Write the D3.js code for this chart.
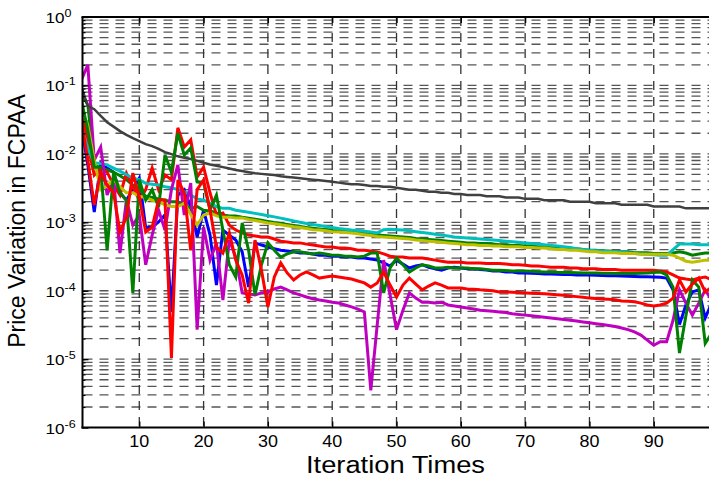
<!DOCTYPE html>
<html><head><meta charset="utf-8">
<script src="https://cdn.jsdelivr.net/npm/d3@7"></script>
<style>body{margin:0;background:#fff}svg{display:block}text{font-family:"Liberation Sans",Arial,Helvetica,sans-serif;fill:#000}</style>
</head><body><svg id="c" width="709" height="482"></svg>
<script>
const iterations = d3.range(1, 100);
const xTickValues = [10, 20, 30, 40, 50, 60, 70, 80, 90];
const yTickExponents = [0, -1, -2, -3, -4, -5, -6];
const xTitle = "Iteration Times";
const yTitle = "Price Variation in FCPAA";

const gray = [0.095,0.05,0.045,0.036,0.029,0.025,0.0215,0.019,0.017,0.0154,
0.0139,0.013,0.0118,0.0106,0.0099,0.0092,0.0088,0.0084,0.0079,0.0074,
0.0070,0.0067,0.0064,0.0061,0.0058,0.0056,0.0054,0.0052,0.0051,0.0050,
0.0049,0.0047,0.0046,0.0045,0.0044,0.0043,0.0042,0.0041,0.0040,0.0039,
0.0038,0.0037,0.0036,0.0036,0.0035,0.0034,0.0034,0.0033,0.0033,0.0032,
0.0031,0.0030,0.0030,0.0029,0.0028,0.0028,0.0027,0.0027,0.0026,0.0026,
0.0025,0.0025,0.0025,0.0024,0.0024,0.0024,0.0023,0.0023,0.0023,0.0022,
0.0022,0.0022,0.0021,0.0021,0.0021,0.0021,0.0020,0.0020,0.0020,0.0020,
0.0019,0.0019,0.0019,0.0019,0.0018,0.0018,0.0018,0.0018,0.0018,0.0017,
0.0017,0.0017,0.0017,0.0017,0.0016,0.0016,0.0016,0.0016,0.0016];

const cyan = [0.025,0.012,0.0074,0.0072,0.0069,0.0062,0.0056,0.0050,0.0044,0.0042,
0.0037,0.0036,0.0035,0.0033,0.0032,0.0030,0.0028,0.0025,0.0022,0.0021,
0.0019,0.0017,0.0016,0.0016,0.0015,0.00145,0.0014,0.00135,0.0013,0.00125,
0.0012,0.00115,0.0011,0.00105,0.0010,0.00096,0.00093,0.00090,0.00087,0.00084,
0.00081,0.00079,0.00077,0.00076,0.00074,0.00072,0.00070,0.00078,0.00079,0.00078,
0.00077,0.00075,0.00073,0.00071,0.00069,0.00067,0.00065,0.00063,0.00061,0.00060,
0.00059,0.00058,0.00057,0.00056,0.00055,0.00054,0.00053,0.00052,0.00051,0.00050,
0.00049,0.00048,0.00047,0.00046,0.00045,0.00044,0.00043,0.00041,0.00040,0.00039,
0.000385,0.00038,0.000375,0.00037,0.000365,0.00036,0.00035,0.000345,0.00034,0.000335,
0.00033,0.00033,0.00040,0.00048,0.00048,0.00048,0.00047,0.00047,0.00047];

const yellow = [0.044,0.026,0.0081,0.0030,0.0034,0.0042,0.0033,0.0027,0.0027,0.0024,
0.0023,0.0021,0.0020,0.0018,0.0017,0.0017,0.0019,0.0013,0.00091,0.00128,
0.00137,0.00124,0.00119,0.00119,0.00116,0.00116,0.00110,0.00106,0.00102,0.00098,
0.00095,0.00092,0.00089,0.00086,0.00084,0.00081,0.00078,0.00077,0.00075,0.00073,
0.00072,0.00071,0.00070,0.00068,0.00066,0.00064,0.00062,0.00061,0.00060,0.00059,
0.00058,0.00057,0.00055,0.00054,0.00053,0.00052,0.00051,0.00050,0.00049,0.00048,
0.00047,0.00047,0.00046,0.00046,0.00045,0.00045,0.00044,0.00044,0.00044,0.00043,
0.00043,0.00042,0.00042,0.00041,0.00040,0.00040,0.00039,0.00039,0.00038,0.00037,
0.00037,0.00036,0.00036,0.00036,0.00035,0.00035,0.00035,0.00034,0.00034,0.00034,
0.00034,0.00034,0.00033,0.00030,0.00027,0.00026,0.00027,0.00028,0.00028];

const green1 = [0.077,0.052,0.0069,0.0062,0.0058,0.0054,0.0048,0.0042,0.0035,0.0030,
0.0024,0.0023,0.0022,0.0021,0.0020,0.0020,0.0018,0.0016,0.0017,0.0015,
0.00146,0.00137,0.00128,0.00124,0.00124,0.00119,0.00115,0.00111,0.00107,0.00103,
0.00099,0.00096,0.00093,0.00090,0.00087,0.00084,0.00082,0.00080,0.00078,0.00076,
0.00075,0.00074,0.00073,0.00071,0.00069,0.00067,0.00065,0.00064,0.00063,0.00062,
0.00061,0.00060,0.00058,0.00057,0.00056,0.00055,0.00054,0.00053,0.00052,0.00051,
0.00050,0.00050,0.00049,0.00049,0.00048,0.00047,0.00047,0.00046,0.00046,0.00045,
0.00045,0.00044,0.00044,0.00043,0.00042,0.00042,0.00041,0.00041,0.00040,0.00039,
0.00039,0.00038,0.00038,0.00037,0.00037,0.00037,0.00036,0.00036,0.00036,0.00035,
0.00035,0.00035,0.000355,0.00037,0.000355,0.00033,0.000345,0.000355,0.000355];

const red1 = [0.055,0.0135,0.0049,0.0062,0.0054,0.0035,0.0025,0.0052,0.0033,0.0021,
0.0030,0.0062,0.0030,0.0049,0.0042,0.024,0.0126,0.016,0.0046,0.0064,
0.0027,0.00128,0.00137,0.00091,0.00077,0.00070,0.00065,0.00063,0.00061,0.00061,
0.00057,0.00053,0.000515,0.00050,0.00050,0.00048,0.000465,0.00045,0.000435,0.000435,
0.00042,0.00042,0.00041,0.00039,0.00039,0.00038,0.00037,0.000345,0.00032,0.00031,
0.00031,0.00030,0.00030,0.00030,0.00029,0.00028,0.00027,0.00026,0.00026,0.00026,
0.000255,0.000255,0.000255,0.00025,0.00025,0.00025,0.000245,0.00024,0.00024,0.000235,
0.00023,0.00023,0.000225,0.00022,0.00022,0.00022,0.000215,0.000215,0.00021,0.00021,
0.00021,0.000205,0.000205,0.000205,0.00020,0.00020,0.00020,0.00020,0.00020,0.00020,
0.000195,0.000188,0.00017,0.000153,0.000148,0.000144,0.000153,0.000159,0.000144];

const blue = [0.026,0.0069,0.00141,0.0073,0.0062,0.0054,0.0027,0.0021,0.0030,0.0044,
0.00083,0.00085,0.00101,0.00128,0.000049,0.0025,0.0030,0.00167,0.00061,0.00151,
0.00065,0.000121,0.00077,0.00065,0.00055,0.00037,0.000113,0.00050,0.000465,0.000435,
0.00041,0.00039,0.00038,0.00037,0.000355,0.000355,0.000345,0.00033,0.00033,0.00032,
0.00032,0.00031,0.00031,0.00030,0.00030,0.00029,0.00028,0.000255,0.00023,0.00028,
0.000245,0.000215,0.00023,0.00024,0.00022,0.00021,0.00020,0.000215,0.00022,0.000215,
0.00021,0.00021,0.000205,0.00020,0.000194,0.000194,0.000188,0.000188,0.000182,0.000182,
0.00018,0.000178,0.000176,0.000176,0.000174,0.000172,0.000172,0.00017,0.00017,0.00017,
0.000168,0.000167,0.000166,0.000165,0.000164,0.000163,0.000162,0.00016,0.00016,0.000159,
0.000157,0.000153,0.000103,0.000032,0.000062,0.000096,0.000103,0.000040,0.000066];

const green2 = [0.061,0.022,0.0064,0.0064,0.00039,0.0054,0.0027,0.0021,0.000093,0.0042,
0.0021,0.0030,0.00167,0.0096,0.0054,0.020,0.0096,0.0122,0.0039,0.00375,
0.00151,0.0025,0.00077,0.00024,0.000159,0.00098,0.00039,0.000087,0.00024,0.00050,
0.00039,0.00031,0.000345,0.00037,0.00037,0.000355,0.000345,0.000355,0.000345,0.00033,
0.00033,0.00032,0.00032,0.00031,0.00032,0.000355,0.000355,0.000093,0.000215,0.00030,
0.00024,0.000188,0.000215,0.00024,0.00023,0.000215,0.000215,0.00022,0.000215,0.000215,
0.000215,0.00021,0.00021,0.000205,0.00020,0.00020,0.000197,0.000195,0.000194,0.000194,
0.000192,0.00019,0.000188,0.000188,0.000186,0.000185,0.000184,0.000183,0.000182,0.000182,
0.000181,0.00018,0.00018,0.000179,0.000178,0.000178,0.000178,0.00018,0.000182,0.000185,
0.000188,0.00017,0.000113,0.0000123,0.000043,0.000144,0.000113,0.000017,0.000024];

const red2 = [0.031,0.0081,0.00179,0.0055,0.0035,0.0027,0.00072,0.00119,0.00525,0.00235,
0.00072,0.00085,0.00212,0.00212,0.0000104,0.00415,0.0027,0.00039,0.0030,0.00415,
0.00151,0.000435,0.000355,0.00070,0.00028,0.00017,0.000066,0.00055,0.00020,0.000058,
0.000159,0.000255,0.000182,0.000144,0.00017,0.000188,0.00017,0.000153,0.000159,0.000164,
0.000159,0.000153,0.000148,0.000139,0.00013,0.000113,0.00013,0.000188,0.000121,0.000081,
0.000121,0.000153,0.000125,0.000103,0.000117,0.00013,0.000121,0.00011,0.00011,0.00011,
0.000106,0.000105,0.000103,0.000102,0.00010,0.000096,0.000096,0.000095,0.000094,0.000093,
0.000092,0.000091,0.00009,0.000089,0.000087,0.000086,0.000084,0.000082,0.00008,0.000078,
0.000077,0.000076,0.000075,0.000074,0.000071,0.00007,0.000069,0.000066,0.000062,0.00006,
0.000062,0.000066,0.000078,0.000144,0.000096,0.000125,0.000153,0.000096,0.000113];

const magenta = [0.12,0.2,0.0081,0.0126,0.0025,0.0044,0.000355,0.00212,0.00091,0.00128,
0.00024,0.00065,0.00151,0.00077,0.0030,0.0069,0.00128,0.00375,0.000027,0.00085,
0.00028,0.00050,0.000073,0.00055,0.00031,0.000093,0.00009,0.000087,0.000093,0.000096,
0.000106,0.000113,0.000103,0.000093,0.000087,0.000081,0.000076,0.000073,0.000071,0.000068,
0.000066,0.000062,0.000058,0.000054,0.000049,0.0000035,0.000032,0.00028,0.000087,0.000027,
0.000052,0.000093,0.000078,0.000068,0.000068,0.000066,0.000068,0.000062,0.00006,0.000058,
0.000056,0.000054,0.000052,0.000051,0.00005,0.000049,0.000048,0.000046,0.000045,0.000044,
0.000043,0.000042,0.000041,0.00004,0.000039,0.000038,0.000037,0.000036,0.000035,0.000034,
0.000033,0.000032,0.000031,0.00003,0.0000285,0.000027,0.000025,0.0000225,0.000019,0.000016,
0.000018,0.000018,0.000037,0.000103,0.000066,0.000044,0.000066,0.000103,0.000073];

const seriesList = [
  {values: blue, color: "#0000ff", width: 3},
  {values: green1, color: "#008000", width: 3},
  {values: red1, color: "#ff0000", width: 3},
  {values: cyan, color: "#00bfbf", width: 3},
  {values: magenta, color: "#bf00bf", width: 3},
  {values: yellow, color: "#bfbf00", width: 3},
  {values: gray, color: "#404040", width: 2.5},
  {values: green2, color: "#008000", width: 3},
  {values: red2, color: "#ff0000", width: 3}
];

const L = 82.5, R = 709, T = 17, B = 427.6;
const svg = d3.select("#c");
const x = d3.scaleLinear().domain([1, 99]).range([81.4, 81.4 + 98 * 6.431]);
const y = d3.scaleLog().domain([1e-6, 1]).range([B, T]);

// horizontal grid
const gridVals = y.ticks().filter(v => v > 1.0001e-6 && v < 0.9999);
svg.append("g").selectAll("line").data(gridVals).join("line")
  .attr("x1", L + 1).attr("x2", R).attr("y1", d => y(d)).attr("y2", d => y(d))
  .attr("stroke", "#555").attr("stroke-width", 1.3).attr("stroke-dasharray", "9,7");

// vertical grid
svg.append("g").selectAll("line").data(xTickValues).join("line")
  .attr("x1", d => x(d)).attr("x2", d => x(d)).attr("y1", T).attr("y2", B)
  .attr("stroke", "#333").attr("stroke-width", 1.3).attr("stroke-dasharray", "9,7");

// clip
svg.append("defs").append("clipPath").attr("id", "pc").append("rect")
  .attr("x", L).attr("y", T).attr("width", R - L + 10).attr("height", B - T);

const line = d3.line().x((d, i) => x(iterations[i])).y(d => y(d));
const lg = svg.append("g").attr("clip-path", "url(#pc)");
seriesList.forEach(s => {
  lg.append("path").datum(s.values).attr("d", line)
    .attr("fill", "none").attr("stroke", s.color).attr("stroke-width", s.width)
    .attr("stroke-linejoin", "miter").attr("stroke-miterlimit", 4);
});

// axes with d3 axis (ticks inward)
const xAxis = d3.axisBottom(x).tickValues(xTickValues).tickSize(-6).tickFormat("");
const xg = svg.append("g").attr("transform", `translate(0,${B})`).call(xAxis);
xg.select(".domain").remove();
xg.selectAll(".tick line").attr("stroke", "#000").attr("stroke-width", 1.3);
const xAxisTop = d3.axisTop(x).tickValues(xTickValues).tickSize(-6).tickFormat("");
const xgt = svg.append("g").attr("transform", `translate(0,${T})`).call(xAxisTop);
xgt.select(".domain").remove();
xgt.selectAll(".tick line").attr("stroke", "#000").attr("stroke-width", 1.3);

const majorVals = yTickExponents.map(e => Math.pow(10, e));
const yAxisMajor = d3.axisLeft(y).tickValues(majorVals).tickSize(-6).tickFormat("");
const yg = svg.append("g").attr("transform", `translate(${L},0)`).call(yAxisMajor);
yg.select(".domain").remove();
yg.selectAll(".tick line").attr("stroke", "#000").attr("stroke-width", 1.3);
const yAxisMinor = d3.axisLeft(y).tickValues(gridVals).tickSize(-3).tickFormat("");
const ym = svg.append("g").attr("transform", `translate(${L},0)`).call(yAxisMinor);
ym.select(".domain").remove();
ym.selectAll(".tick line").attr("stroke", "#000").attr("stroke-width", 1.2);

// frame
svg.append("line").attr("x1", L).attr("x2", L).attr("y1", T).attr("y2", B + 1).attr("stroke", "#000").attr("stroke-width", 2);
svg.append("line").attr("x1", L - 1).attr("x2", R).attr("y1", B).attr("y2", B).attr("stroke", "#000").attr("stroke-width", 2);
svg.append("line").attr("x1", L - 1).attr("x2", R).attr("y1", T).attr("y2", T).attr("stroke", "#000").attr("stroke-width", 2);

// y tick labels
yTickExponents.forEach(e => {
  const g = svg.append("g").attr("transform", `translate(45.5,${y(Math.pow(10, e)) + 6}) scale(1.14,1)`);
  const t = g.append("text").attr("font-size", 15);
  t.append("tspan").text("10");
  t.append("tspan").attr("font-size", 11).attr("dy", -6).text(String(e).replace("-", "-"));
});

// x tick labels
xTickValues.forEach(v => {
  svg.append("g").attr("transform", `translate(${x(v)},447) scale(1.12,1)`)
    .append("text").attr("text-anchor", "middle").attr("font-size", 16).text(v);
});

// titles
svg.append("text").attr("x", 395.5).attr("y", 473.3).attr("text-anchor", "middle")
  .attr("font-size", 23).attr("textLength", 179).attr("lengthAdjust", "spacingAndGlyphs").text(xTitle);
svg.append("text").attr("transform", "translate(25,221) rotate(-90)").attr("text-anchor", "middle")
  .attr("font-size", 23).text(yTitle);
</script>
</body></html>
